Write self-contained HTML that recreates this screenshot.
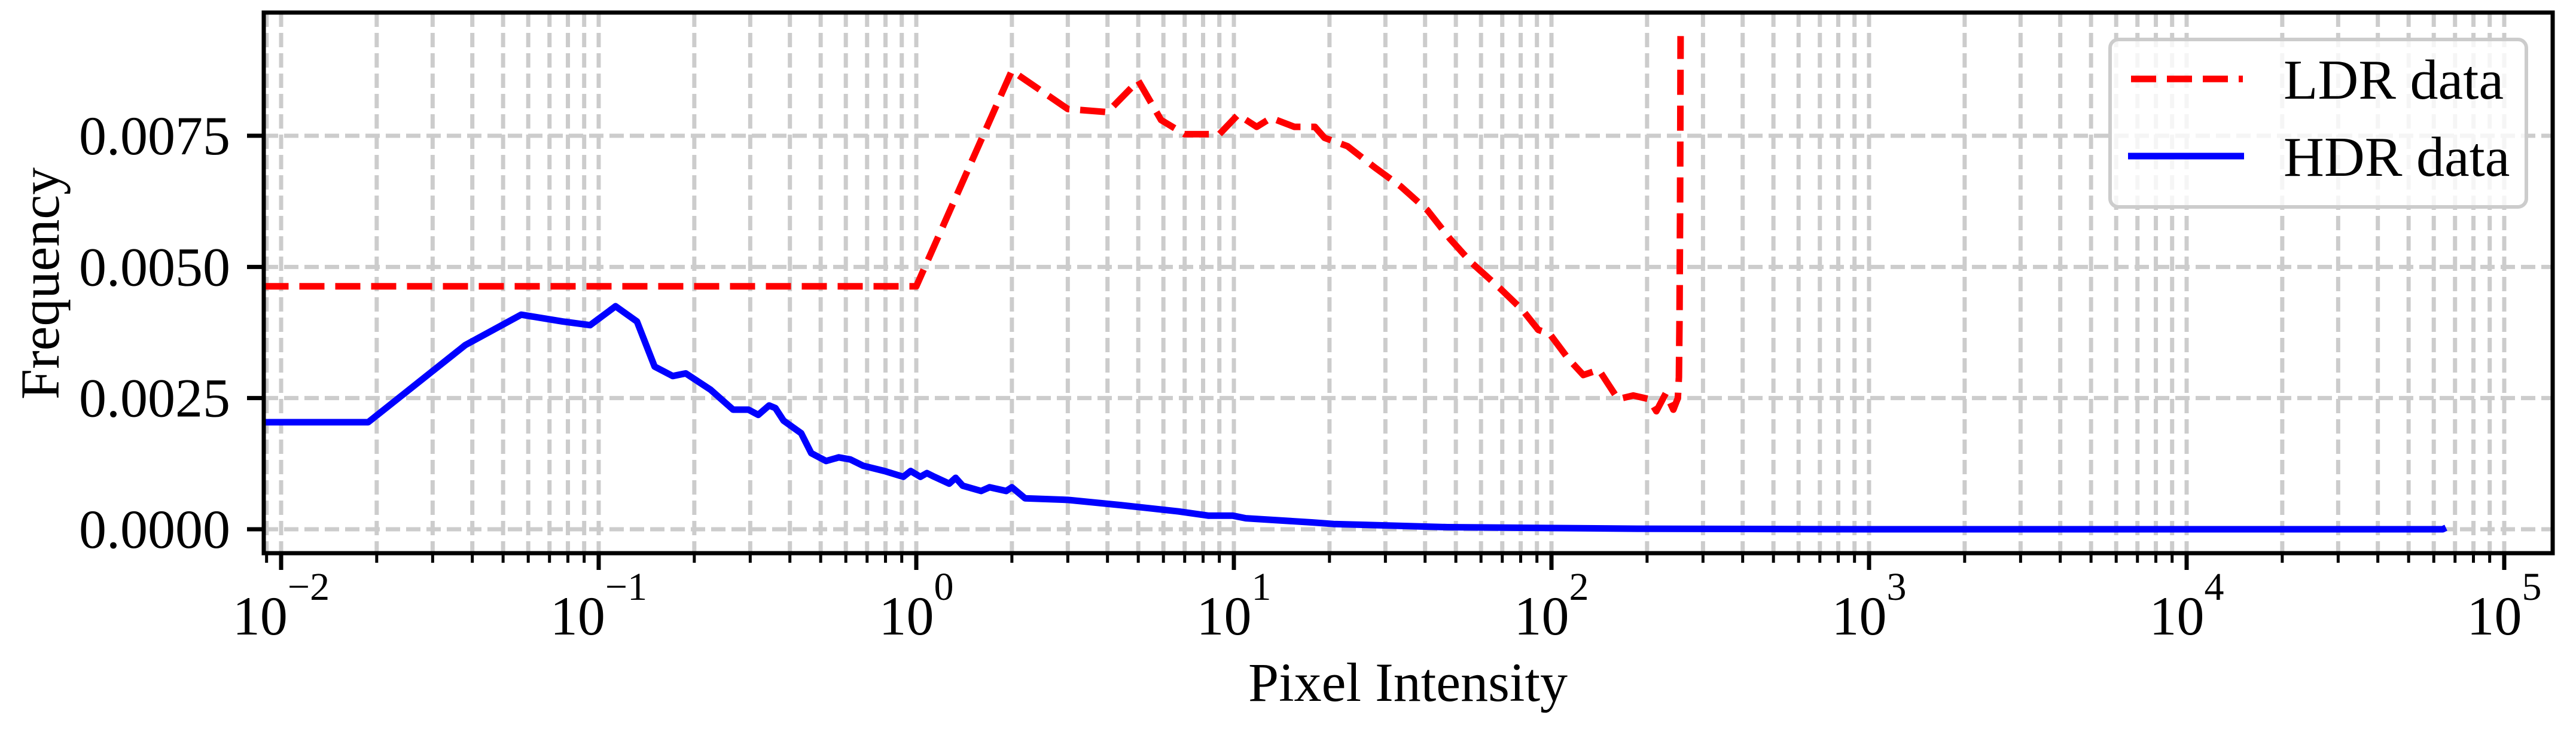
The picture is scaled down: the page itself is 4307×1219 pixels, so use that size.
<!DOCTYPE html>
<html><head><meta charset="utf-8"><style>
html,body{margin:0;padding:0;background:#fff}
svg{display:block}
text{font-family:"Liberation Serif","Times New Roman",serif;fill:#000}
</style></head><body>
<svg id="chart" width="4307" height="1219" viewBox="0 0 4307 1219" xmlns="http://www.w3.org/2000/svg">
<defs><clipPath id="plotclip"><rect x="441" y="21" width="3827" height="904"/></clipPath></defs>
<rect x="0" y="0" width="4307" height="1219" fill="#fff"/>
<g id="grid"></g>
<g id="series" clip-path="url(#plotclip)"></g>
<rect x="441" y="21" width="3827" height="904" fill="none" stroke="#000" stroke-width="7"/>
<g id="axes"></g>
<text x="2354" y="1172" font-size="92" text-anchor="middle">Pixel Intensity</text>
<text transform="translate(98,474) rotate(-90)" font-size="92" text-anchor="middle">Frequency</text>
<g>
<rect x="3528" y="66" width="696" height="280" rx="14" fill="rgba(255,255,255,0.8)" stroke="#ccc" stroke-width="6"/>
<line x1="3563" y1="132" x2="3750" y2="132" stroke="#ff0000" stroke-width="11" stroke-dasharray="42 18"/>
<text x="3818" y="165" font-size="94">LDR data</text>
<line x1="3558" y1="261" x2="3752" y2="261" stroke="#0000ff" stroke-width="11"/>
<text x="3818" y="294" font-size="94">HDR data</text>
</g>
</svg>
<script>
const ldrX = [0.0088,1,2,3,4,5,5.9,7,9,10.3,11.8,13.1,15.5,18,19.3,22.8,27.7,33.6,40.7,48,56,68.9,81,90.9,98.6,113,126,141,162,181,203,214,229,242,250,252,253,254,255];
const ldrY = [0.00463,0.00463,0.00874,0.00801,0.00795,0.00855,0.0078,0.00753,0.00753,0.0079,0.00767,0.00784,0.00767,0.00767,0.00746,0.0073,0.0069,0.00653,0.00608,0.00553,0.00508,0.00459,0.00418,0.0038,0.00373,0.00325,0.00294,0.00304,0.00248,0.00255,0.00248,0.00225,0.00259,0.00228,0.0025,0.0029,0.0040,0.0060,0.0094];
const hdrX = [0.0088,0.0188,0.038,0.057,0.077,0.094,0.113,0.132,0.15,0.171,0.188,0.225,0.265,0.296,0.318,0.344,0.36,0.382,0.434,0.467,0.52,0.57,0.62,0.68,0.794,0.91,0.96,1.03,1.08,1.14,1.27,1.33,1.4,1.6,1.7,1.92,2.0,2.2,3.0,4.4,6.7,8.3,9.9,10.9,17.7,20.6,47,186,1000,10000,64000,65535];
const hdrY = [0.00204,0.00204,0.00351,0.00409,0.00396,0.00389,0.00425,0.00396,0.0031,0.00292,0.00297,0.00266,0.00228,0.00228,0.00218,0.00236,0.00231,0.00207,0.00183,0.00145,0.0013,0.00137,0.00133,0.00121,0.00111,0.001,0.00111,0.001,0.00107,0.001,0.00087,0.00098,0.00083,0.00073,0.0008,0.00073,0.0008,0.00059,0.00056,0.00046,0.00034,0.00026,0.00026,0.00021,0.00013,0.0001,0.00004,0.00001,0,0,0,0.00003];
const yTicks = [0, 0.0025, 0.005, 0.0075];
const yTickLabels = ["0.0000","0.0025","0.0050","0.0075"];
const xDecades = [-2,-1,0,1,2,3,4,5];
const xTickExps = ["\u22122","\u22121","0","1","2","3","4","5"];

const NS = "http://www.w3.org/2000/svg";
const X0 = 470, DEC = 531, Y0 = 885, YS = 87733;
const PL = 441, PR = 4268, PT = 21, PB = 925;
function xs(v){ return X0 + DEC*(Math.log10(v)+2); }
function ys(v){ return Y0 - v*YS; }
function mk(tag, attrs, parent){
  const e = document.createElementNS(NS, tag);
  for (const k in attrs) e.setAttribute(k, attrs[k]);
  parent.appendChild(e); return e;
}
const grid = document.getElementById('grid');
const axes = document.getElementById('axes');
const series = document.getElementById('series');

for (let d = -3; d <= 5; d++) {
  for (let m = 1; m <= 9; m++) {
    const v = m*Math.pow(10,d);
    const x = xs(v);
    if (x < PL || x > PR) continue;
    const gl = mk('line', {x1:x, y1:PT, x2:x, y2:PB, stroke:'#cccccc', 'stroke-width':7, 'stroke-dasharray':'24 10'}, grid);
    
    
    const tk = mk('line', {x1:x, y1:PB, x2:x, y2:PB + (m===1?28:16), stroke:'#000', 'stroke-width': m===1?7:5}, axes);
    
    
  }
}
yTicks.forEach((v,i) => {
  const y = ys(v);
  const gl = mk('line', {x1:PL, y1:y, x2:PR, y2:y, stroke:'#cccccc', 'stroke-width':7, 'stroke-dasharray':'24 10'}, grid);
  
  
  const tk = mk('line', {x1:PL-28, y1:y, x2:PL, y2:y, stroke:'#000', 'stroke-width':7}, axes);
  
  
  const t = mk('text', {x:385, y:y+31, 'font-size':92, 'text-anchor':'end'}, axes);
  
  
  t.textContent = yTickLabels[i];
});
xDecades.forEach((d,i) => {
  const x = xs(Math.pow(10,d));
  const t = mk('text', {x:x, y:1061, 'font-size':92, 'text-anchor':'middle'}, axes);
  
  
  t.appendChild(document.createTextNode('10'));
  const sp = mk('tspan', {dy:-58, 'font-size':66}, t);
  sp.textContent = xTickExps[i];
});
function pathFrom(xa, ya){
  return xa.map((v,i) => (i?'L':'M') + xs(v).toFixed(1) + ' ' + ys(ya[i]).toFixed(1)).join(' ');
}
const hdr = mk('path', {d:pathFrom(hdrX,hdrY), fill:'none', stroke:'#0000ff', 'stroke-width':11, 'stroke-linejoin':'round'}, series);


const ldr = mk('path', {d:pathFrom(ldrX,ldrY), fill:'none', stroke:'#ff0000', 'stroke-width':11, 'stroke-dasharray':'42 18', 'stroke-linejoin':'round'}, series);


</script>
</body></html>
